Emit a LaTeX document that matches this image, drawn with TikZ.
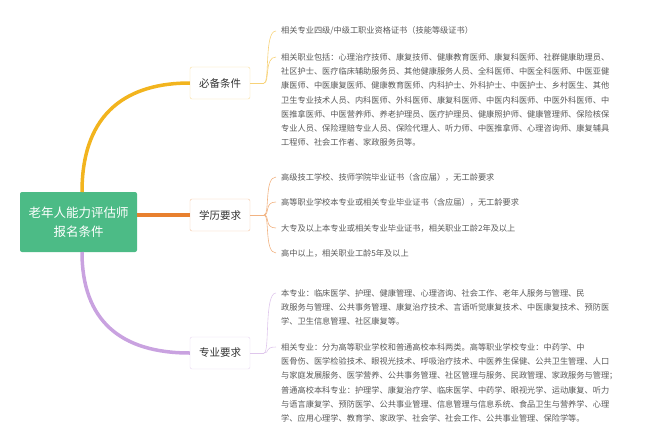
\documentclass[tikz,border=0pt]{standalone}
\usepackage{fontspec}
\setmainfont{Noto Sans CJK SC}
\begin{document}
\begin{tikzpicture}[x=1pt,y=-1pt,
  txt/.style={anchor=west,inner sep=0pt,font=\fontsize{8.2}{10}\selectfont,text=black!65},
  br/.style={draw=#1!45,rounded corners=2pt,fill=white,minimum width=60pt,minimum height=32pt,inner sep=0pt,font=\fontsize{10.5}{12}\selectfont,text=black!80},
  thin/.style={draw=#1,line width=0.6pt}]
\useasboundingbox (0,0) rectangle (660,444);
\definecolor{cg}{HTML}{4CBB86}
\definecolor{cy}{HTML}{F2B41E}
\definecolor{co}{HTML}{E8802E}
\definecolor{cp}{HTML}{C9A2E0}
\node[fill=cg,rounded corners=2pt,minimum width=117pt,minimum height=60pt,text=white,align=center,font=\fontsize{12.5}{19}\selectfont] (c) at (78.5,222) {老年人能力评估师\\报名条件};
\node[br=cy] (a) at (220,83) {必备条件};
\node[br=co] (b) at (220,215) {学历要求};
\node[br=cp] (d) at (220,353) {专业要求};
\draw[cy,line width=3.5pt] (82,192) .. controls (82,110) and (130,83) .. (a.west);
\draw[co,line width=3.5pt] (c.east|-b) -- (b.west);
\draw[cp,line width=3.5pt] (82,252) .. controls (82,320) and (120,353) .. (d.west);
% texts
\node[txt] (a1) at (281,31) {相关专业四级/中级工职业资格证书（技能等级证书）};
\node[txt] (a2) at (281,57) {相关职业包括：心理治疗技师、康复技师、健康教育医师、康复科医师、社群健康助理员、};
\node[txt] at (281,71.3) {社区护士、医疗临床辅助服务员、其他健康服务人员、全科医师、中医全科医师、中医亚健};
\node[txt] at (281,85.6) {康医师、中医康复医师、健康教育医师、内科护士、外科护士、中医护士、乡村医生、其他};
\node[txt] at (281,99.9) {卫生专业技术人员、内科医师、外科医师、康复科医师、中医内科医师、中医外科医师、中};
\node[txt] at (281,114.2) {医推拿医师、中医营养师、养老护理员、医疗护理员、健康照护师、健康管理师、保险核保};
\node[txt] at (281,128.5) {专业人员、保险理赔专业人员、保险代理人、听力师、中医推拿师、心理咨询师、康复辅具};
\node[txt] at (281,142.8) {工程师、社会工作者、家政服务员等。};
\node[txt] (b1) at (281,177) {高级技工学校、技师学院毕业证书（含应届），无工龄要求};
\node[txt] (b2) at (281,202) {高等职业学校本专业或相关专业毕业证书（含应届），无工龄要求};
\node[txt] (b3) at (281,228) {大专及以上本专业或相关专业毕业证书，相关职业工龄2年及以上};
\node[txt] (b4) at (281,253) {高中以上，相关职业工龄5年及以上};
\node[txt] (d1) at (281,293) {本专业：临床医学、护理、健康管理、心理咨询、社会工作、老年人服务与管理、民};
\node[txt] at (281,307.3) {政服务与管理、公共事务管理、康复治疗技术、言语听觉康复技术、中医康复技术、预防医};
\node[txt] at (281,321.6) {学、卫生信息管理、社区康复等。};
\node[txt] (d2) at (281,347) {相关专业：分为高等职业学校和普通高校本科两类。高等职业学校专业：中药学、中};
\node[txt] at (281,361.3) {医骨伤、医学检验技术、眼视光技术、呼吸治疗技术、中医养生保健、公共卫生管理、人口};
\node[txt] at (281,375.6) {与家庭发展服务、医学营养、公共事务管理、社区管理与服务、民政管理、家政服务与管理；};
\node[txt] at (281,389.9) {普通高校本科专业：护理学、康复治疗学、临床医学、中药学、眼视光学、运动康复、听力};
\node[txt] at (281,404.2) {与语言康复学、预防医学、公共事业管理、信息管理与信息系统、食品卫生与营养学、心理};
\node[txt] at (281,418.5) {学、应用心理学、教育学、家政学、社会学、社会工作、公共事业管理、保险学等。};
% braces
\coordinate (ja) at (264,83);
\coordinate (jb) at (264,215);
\coordinate (jd) at (264,353);
\draw[thin=cy!60] (a.east) -- (ja);
\draw[thin=co!60] (b.east) -- (jb);
\draw[thin=cp!60] (d.east) -- (jd);
\foreach \n/\j/\col in {a1/ja/cy,a2/ja/cy,b1/jb/co,b2/jb/co,b3/jb/co,b4/jb/co,d1/jd/cp,d2/jd/cp}{
  \draw[thin=\col!60] (\j) .. controls ([xshift=6pt]\j) and ([xshift=-17pt]\n.west) .. ([xshift=-5pt]\n.west);
}
\end{tikzpicture}
\end{document}
